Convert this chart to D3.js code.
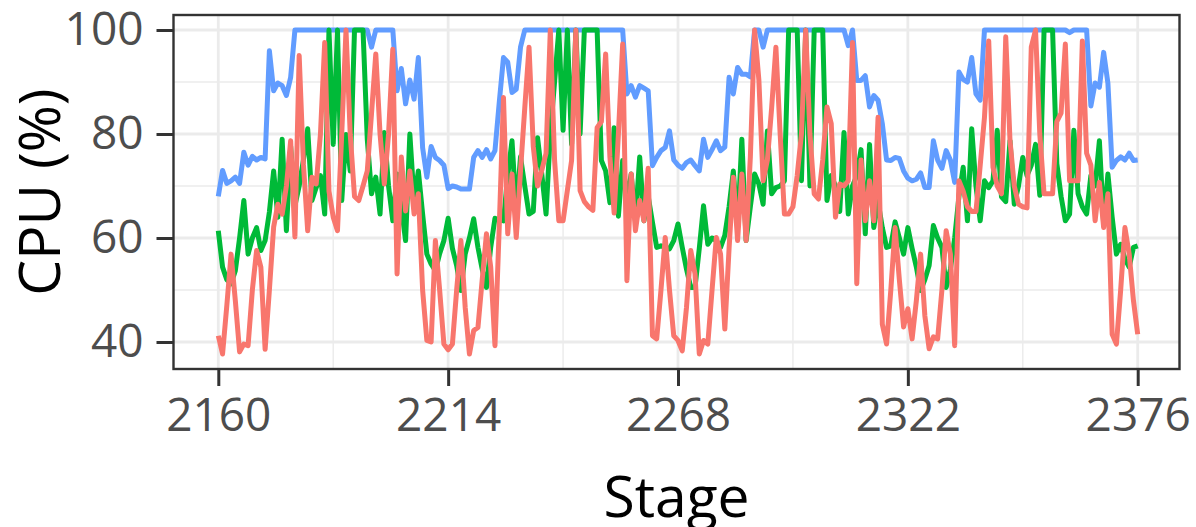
<!DOCTYPE html>
<html>
  <head>
    <meta charset="utf-8">
    <title>cpu stages</title>
    <script src="https://d3js.org/d3.v7.min.js"></script>
    <style>
      body { margin: 0; background: #fff; }
      text { font-family: "Open Sans", sans-serif; }
    </style>
  </head>
  <body>
  <svg width="1196" height="527"></svg>
  <script>
    // stages on the x axis, one value per stage for each line
    var stages = d3.range(2160, 2377);
    var xTicks = [2160, 2214, 2268, 2322, 2376];
    var yTicks = [40, 60, 80, 100];

    var blueValues = [
      68, 73, 70.5, 71, 71.7, 70.5, 76.5, 74, 75.7, 75,
      75.5, 75.2, 96, 88.3, 89.8, 89.3, 87.4, 90.9, 100, 100,
      100, 100, 100, 100, 100, 100, 100, 100, 100, 100,
      100, 100, 100, 100, 100, 100, 96.7, 100, 100, 100,
      100, 100, 88.3, 92.6, 85.8, 90.4, 86.7, 94.7, 77.4, 71.7,
      77.6, 75.5, 74.9, 74, 69.5, 70, 69.8, 69.4, 69.4, 69.4,
      75.5, 76.8, 75.5, 77, 75.2, 76.8, 86, 94.7, 93.8, 88,
      88.6, 96.7, 100, 100, 100, 100, 100, 100, 100, 100,
      100, 100, 100, 100, 100, 100, 100, 100, 100, 100,
      100, 100, 100, 100, 100, 100, 87.7, 89.3, 87.1, 89.3,
      88.8, 88.3, 73.9, 75.5, 76.8, 77.4, 80.6, 75, 74, 73.4,
      74.5, 75, 73.9, 72.9, 79, 75.5, 77, 78.7, 76.8, 77.5,
      90.9, 87.7, 92.8, 91.5, 91.5, 91, 100, 100, 96.7, 100,
      100, 100, 100, 100, 100, 100, 100, 100, 100, 100,
      100, 100, 100, 100, 100, 100, 100, 100, 97, 100,
      90.3, 90.3, 91.2, 85.2, 87.4, 86.5, 82, 75, 74.9, 75.5,
      75.3, 72.9, 71.5, 71, 71.3, 72.5, 69.7, 69.7, 78.7, 75,
      73.4, 76.8, 75, 70.7, 91.9, 90.5, 90, 94.7, 87.7, 86.5,
      100, 100, 100, 100, 100, 100, 100, 100, 100, 100,
      100, 100, 100, 100, 100, 100, 100, 100, 100, 100,
      99.5, 100, 100, 100, 100, 85.4, 89.8, 89, 95.7, 89.8,
      73.6, 74.9, 75.6, 75, 76.3, 74.9, 75
    ];

    var greenValues = [
      61.4, 54.4, 52, 51.2, 53.7, 60, 67.2, 56.9, 60, 62,
      57.6, 59.5, 65, 72.9, 64, 79, 61.4, 77.6, 66.2, 70,
      75, 81, 67.2, 69.7, 72, 64.6, 100, 78, 100, 67.2,
      79.9, 72.9, 100, 100, 100, 79, 68.5, 71.7, 64.6, 80.3,
      70, 63.3, 72.3, 66, 59.5, 80, 67.2, 72.9, 64.6, 56.9,
      55, 53.7, 57, 59.5, 63.8, 58, 54.7, 49.9, 56.9, 60,
      63.7, 58.2, 54, 50.5, 58.2, 63.8, 63.5, 63.3, 72, 78.7,
      65.1, 75.6, 70, 64.6, 65.1, 79.3, 72.3, 64.6, 80, 90,
      100, 80.7, 100, 78, 100, 80, 100, 100, 100, 100,
      74.9, 72.9, 66.8, 81.2, 64.2, 74.9, 67.2, 72.3, 63.3, 75.6,
      63.3, 68, 63, 58.2, 58.5, 58.2, 57.9, 59.5, 62.7, 58.2,
      54, 50.5, 50.5, 58, 66.2, 58.8, 60, 59.5, 58.2, 60.5,
      66, 72.9, 62, 79, 59.5, 66, 72.3, 70.4, 66.5, 80.6,
      68.5, 69.7, 70, 71, 100, 100, 100, 71, 100, 70,
      100, 100, 100, 67.2, 72, 70, 65.1, 80.3, 64.6, 70,
      72, 77, 60.8, 78, 62, 67, 62, 58.2, 58.5, 63.1,
      60, 56.9, 62, 58, 54.4, 49.9, 52, 54.7, 62.4, 60,
      58.2, 50.5, 54, 60, 68, 73.6, 63.3, 81, 70, 63.3,
      71, 69.7, 71, 80.7, 67.9, 67, 78.7, 66.5, 70, 75.5,
      72, 74, 78, 68.2, 100, 100, 100, 74.3, 68, 63.3,
      64.6, 80.7, 68.5, 66, 64.6, 72, 70, 78.7, 62.7, 72.3,
      64, 56.9, 58.8, 56, 54.4, 58.2, 58.5
    ];

    var redValues = [
      41.2, 37.7, 47, 56.9, 48, 38.1, 39.6, 39.3, 50, 57.6,
      54.4, 38.6, 50, 62.1, 66.5, 64.6, 70, 78.7, 60.2, 95.1,
      74.2, 61.4, 71.7, 70.4, 80, 97.6, 69, 64, 61.4, 80,
      100, 79.9, 68, 67.2, 70, 72.9, 84, 95.4, 80, 70.4,
      80, 96.3, 53.1, 75.6, 65.2, 72.9, 64.6, 68.5, 50, 40.3,
      40, 59.5, 50, 39.6, 38.5, 39.6, 50, 59.5, 46.7, 37.7,
      42.2, 42.8, 52, 60.8, 54.4, 39.3, 62, 87, 60.8, 72.3,
      60.1, 72.9, 85, 96.7, 77.6, 70, 73, 76.3, 100, 75,
      63.3, 63.3, 69.1, 74.9, 100, 69.1, 67, 66, 65.3, 81.2,
      82.4, 95.4, 75.6, 64.8, 80, 97.3, 51.8, 72.3, 61.4, 67.2,
      63.3, 73.4, 41.2, 40.6, 50, 60.1, 50, 41.2, 40.3, 38.3,
      46.7, 57.6, 53.1, 37.7, 40.3, 39.6, 50, 60.1, 56.9, 42.5,
      58, 71.7, 59.5, 72.3, 59.5, 75.6, 100, 90.4, 71, 75,
      85, 96.7, 80, 64.6, 64.6, 66, 72, 80, 100, 80,
      68.5, 67.5, 75, 85.2, 82, 64, 70.4, 70, 71, 97.6,
      51.2, 75, 63.3, 71, 63.3, 83.2, 43.4, 39.6, 50, 62,
      52, 42.9, 46.4, 40.6, 48, 56.9, 45, 38.7, 41, 40.6,
      50, 61.4, 56.9, 39.3, 71, 69, 66, 65.1, 65.1, 74,
      83.2, 97.9, 73.6, 70, 68.5, 98.7, 78.7, 70, 66.5, 66,
      65.8, 96.7, 100, 80, 68.5, 68.5, 68.5, 82.4, 84, 97.3,
      71, 71, 71, 97.9, 76.3, 74, 63.3, 70.7, 62, 68.5,
      41.5, 39.6, 50, 62, 56.9, 48, 41.5
    ];

    var series = [
      {color: "#619CFF", values: blueValues},
      {color: "#00BA38", values: greenValues},
      {color: "#F8766D", values: redValues}
    ];

    var svg = d3.select("svg");
    var panel = {left: 173.5, right: 1179.5, top: 15, bottom: 369};

    var x = d3.scaleLinear().domain([2160, 2376]).range([218.3, 1137.7]);
    var y = d3.scaleLinear().domain([40, 100]).range([342, 30]);

    var g = svg.append("g");

    // grid: minor first, then major
    var xMinor = [2187, 2241, 2295, 2349];
    var yMinor = [50, 70, 90];
    g.selectAll(".xminor").data(xMinor).enter().append("line")
      .attr("x1", d => x(d)).attr("x2", d => x(d))
      .attr("y1", panel.top).attr("y2", panel.bottom)
      .attr("stroke", "#EBEBEB").attr("stroke-width", 1.4);
    g.selectAll(".yminor").data(yMinor).enter().append("line")
      .attr("x1", panel.left).attr("x2", panel.right)
      .attr("y1", d => y(d)).attr("y2", d => y(d))
      .attr("stroke", "#EBEBEB").attr("stroke-width", 1.4);
    g.selectAll(".xmajor").data(xTicks).enter().append("line")
      .attr("x1", d => x(d)).attr("x2", d => x(d))
      .attr("y1", panel.top).attr("y2", panel.bottom)
      .attr("stroke", "#EBEBEB").attr("stroke-width", 2.8);
    g.selectAll(".ymajor").data(yTicks).enter().append("line")
      .attr("x1", panel.left).attr("x2", panel.right)
      .attr("y1", d => y(d)).attr("y2", d => y(d))
      .attr("stroke", "#EBEBEB").attr("stroke-width", 2.8);

    // lines
    var line = d3.line()
      .x((d, i) => x(stages[i]))
      .y(d => y(d));

    g.selectAll(".series").data(series).enter().append("path")
      .attr("d", d => line(d.values))
      .attr("fill", "none")
      .attr("stroke", d => d.color)
      .attr("stroke-width", 5)
      .attr("stroke-linejoin", "round");

    // panel border
    g.append("rect")
      .attr("x", panel.left).attr("y", panel.top)
      .attr("width", panel.right - panel.left)
      .attr("height", panel.bottom - panel.top)
      .attr("fill", "none")
      .attr("stroke", "#333333")
      .attr("stroke-width", 2.4);

    // axes
    var xAxis = d3.axisBottom(x).tickValues(xTicks).tickSize(17).tickPadding(12).tickFormat(d3.format("d"));
    var yAxis = d3.axisLeft(y).tickValues(yTicks).tickSize(17).tickPadding(13);

    var gx = svg.append("g").attr("transform", "translate(0," + panel.bottom + ")").call(xAxis);
    var gy = svg.append("g").attr("transform", "translate(" + panel.left + ",0)").call(yAxis);

    [gx, gy].forEach(function(a) {
      a.select(".domain").remove();
      a.selectAll(".tick line").attr("stroke", "#333333").attr("stroke-width", 3);
      a.selectAll(".tick text")
        .attr("fill", "#4D4D4D")
        .style("font-size", "46px")
        .style("font-family", "'Open Sans', sans-serif");
    });

    // axis titles
    svg.append("text")
      .attr("x", (panel.left + panel.right) / 2)
      .attr("y", 517)
      .attr("text-anchor", "middle")
      .style("font-size", "57px")
      .attr("fill", "#000")
      .text("Stage");

    svg.append("text")
      .attr("transform", "translate(60," + ((panel.top + panel.bottom) / 2) + ") rotate(-90)")
      .attr("text-anchor", "middle")
      .style("font-size", "57px")
      .attr("fill", "#000")
      .text("CPU (%)");
  </script>
  </body>
</html>
